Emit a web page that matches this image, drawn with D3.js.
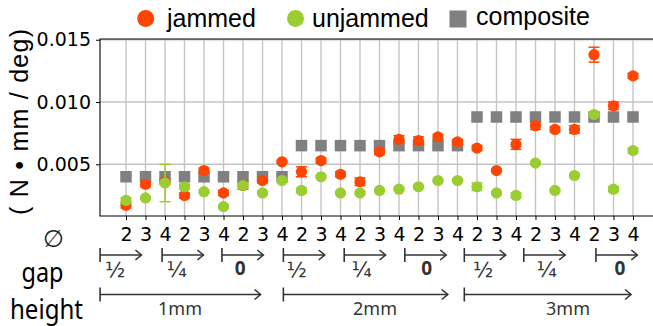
<!DOCTYPE html>
<html>
<head>
<meta charset="utf-8">
<script src="https://cdn.jsdelivr.net/npm/d3@7"></script>
<style>
  html, body { margin: 0; padding: 0; background: #fff; }
  svg { display: block; }
</style>
</head>
<body>
<svg id="chart" width="653" height="326"></svg>
<script>
// Tip diameter for each of the 27 specimens (x tick labels)
const diameters = ["2","3","4","2","3","4","2","3","4",
                   "2","3","4","2","3","4","2","3","4",
                   "2","3","4","2","3","4","2","3","4"];
// Gap setting per group of three specimens, and height per group of nine
const gapLabels = ["½","¼","0","½","¼","0","½","¼","0"];
const heightLabels = ["1mm","2mm","3mm"];
const yTicks = [0.005, 0.010, 0.015];

// Stiffness, N·mm/deg
const jammed = [0.0017, 0.0034, 0.0036, 0.0025, 0.0045, 0.0027, 0.0033, 0.0037, 0.0052,
                0.0044, 0.0053, 0.0042, 0.0036, 0.0060, 0.0070, 0.0069, 0.0072, 0.0068,
                0.0063, 0.0045, 0.0066, 0.0081, 0.0078, 0.0078, 0.0138, 0.0097, 0.0121];
const jammedErr = [0.0002, 0.0002, 0.0002, 0.0002, 0.0002, 0.0002, 0.0003, 0.0002, 0.0001,
                   0.0004, 0.0002, 0.0002, 0.0003, 0.0002, 0.0003, 0.0003, 0.0002, 0.0002,
                   0.0002, 0.0001, 0.0004, 0.0003, 0.0002, 0.0003, 0.0006, 0.0003, 0.0002];
const unjammed = [0.0021, 0.0023, 0.0035, 0.0032, 0.0028, 0.0016, 0.0033, 0.0027, 0.0037,
                  0.0029, 0.0040, 0.0027, 0.0027, 0.0029, 0.0030, 0.0032, 0.0037, 0.0037,
                  0.0032, 0.0027, 0.0025, 0.0051, 0.0029, 0.0041, 0.0090, 0.0030, 0.0061];
const unjammedErr = [0.0002, 0.0001, 0.0015, 0.0002, 0.0001, 0.0001, 0.0002, 0.0001, 0.0001,
                     0.0002, 0.0001, 0.0001, 0.0001, 0.0001, 0.0001, 0.0001, 0.0001, 0.0001,
                     0.0003, 0.0001, 0.0002, 0.0001, 0.0001, 0.0001, 0.0001, 0.0002, 0.0002];
const composite = [0.0040, 0.0040, 0.0040, 0.0040, 0.0040, 0.0040, 0.0040, 0.0040, 0.0040,
                   0.0065, 0.0065, 0.0065, 0.0065, 0.0065, 0.0065, 0.0065, 0.0065, 0.0065,
                   0.0088, 0.0088, 0.0088, 0.0088, 0.0088, 0.0088, 0.0088, 0.0088, 0.0088];

const colors = { jammed: "#ff4500", unjammed: "#9acd32", composite: "#808080" };

// Annotation layout below the axis, in specimen-index units
const gapArrowLayout = {
  start: [-1.33, 1.85, 4.92, 8.07, 11.19, 14.30, 17.35, 20.40, 24.10],
  label: [-0.56, 2.60, 5.85, 8.75, 12.09, 15.42, 18.32, 21.57, 25.33],
  length: 2.12
};
const heightArrowLayout = {
  start: [-1.33, 8.07, 17.35],
  end: [6.90, 16.50, 25.90],
  label: [2.77, 12.77, 22.67]
};

const svg = d3.select("#chart");
const plot = { left: 100, right: 659, top: 39, bottom: 216 };

const idx = d3.range(diameters.length);
const x = d3.scaleLinear().domain([-1.334, 27.334]).range([plot.left, plot.right]);
const y = d3.scaleLinear().domain([0.00085, 0.01506]).range([plot.bottom, plot.top]);

// Grid
const grid = svg.append("g").attr("stroke", "#c4c4c4").attr("stroke-width", 1.4);
grid.selectAll("line.v").data(idx).join("line")
  .attr("class", "v")
  .attr("x1", d => x(d)).attr("x2", d => x(d))
  .attr("y1", plot.top).attr("y2", plot.bottom);
grid.selectAll("line.h").data(yTicks).join("line")
  .attr("class", "h")
  .attr("x1", plot.left).attr("x2", plot.right)
  .attr("y1", d => y(d)).attr("y2", d => y(d));

// Axes
const fontTick = "'DejaVu Sans', sans-serif";
const yAxis = svg.append("g")
  .attr("transform", `translate(${plot.left},0)`)
  .call(d3.axisLeft(y).tickValues(yTicks).tickFormat(d3.format(".3f")).tickSize(4).tickPadding(5));
yAxis.select(".domain").remove();
yAxis.selectAll("text").attr("font-family", fontTick).attr("font-size", 19).attr("fill", "#000");
yAxis.selectAll("line").attr("stroke", "#000");

const xAxis = svg.append("g")
  .attr("transform", `translate(0,${plot.bottom})`)
  .call(d3.axisBottom(x).tickValues(idx).tickFormat(i => diameters[i]).tickSize(4).tickPadding(8));
xAxis.select(".domain").remove();
xAxis.selectAll("text").attr("font-family", fontTick).attr("font-size", 19).attr("fill", "#000");
xAxis.selectAll("line").attr("stroke", "#000");

// Frame (right side falls outside the canvas)
svg.append("path")
  .attr("d", `M${plot.right},${plot.top}H${plot.left}V${plot.bottom}H${plot.right}`)
  .attr("fill", "none").attr("stroke", "#000").attr("stroke-width", 1.1);

// Composite squares
const sq = 11.5;
svg.append("g").selectAll("rect").data(idx).join("rect")
  .attr("x", i => x(i) - sq / 2).attr("y", i => y(composite[i]) - sq / 2)
  .attr("width", sq).attr("height", sq)
  .attr("fill", colors.composite);

// Error bars + circles for a series
function drawSeries(vals, errs, color) {
  const g = svg.append("g");
  const cap = 5.5;
  const eb = g.append("g").attr("stroke", color).attr("stroke-width", 1.5);
  eb.selectAll("line.bar").data(idx).join("line").attr("class", "bar")
    .attr("x1", i => x(i)).attr("x2", i => x(i))
    .attr("y1", i => y(vals[i] - errs[i])).attr("y2", i => y(vals[i] + errs[i]));
  eb.selectAll("line.lo").data(idx).join("line").attr("class", "lo")
    .attr("x1", i => x(i) - cap).attr("x2", i => x(i) + cap)
    .attr("y1", i => y(vals[i] - errs[i])).attr("y2", i => y(vals[i] - errs[i]));
  eb.selectAll("line.hi").data(idx).join("line").attr("class", "hi")
    .attr("x1", i => x(i) - cap).attr("x2", i => x(i) + cap)
    .attr("y1", i => y(vals[i] + errs[i])).attr("y2", i => y(vals[i] + errs[i]));
  g.selectAll("circle").data(idx).join("circle")
    .attr("cx", i => x(i)).attr("cy", i => y(vals[i])).attr("r", 5.6)
    .attr("fill", color);
}
drawSeries(jammed, jammedErr, colors.jammed);
drawSeries(unjammed, unjammedErr, colors.unjammed);

// Legend
const fontLegend = "'Liberation Sans', Arial, sans-serif";
const legend = svg.append("g").attr("font-family", fontLegend).attr("font-size", 25).attr("fill", "#000");
legend.append("circle").attr("cx", 145.7).attr("cy", 18.5).attr("r", 8.5).attr("fill", colors.jammed);
legend.append("text").attr("x", 167).attr("y", 26.5).text("jammed");
legend.append("circle").attr("cx", 295.5).attr("cy", 18.5).attr("r", 8.5).attr("fill", colors.unjammed);
legend.append("text").attr("x", 312).attr("y", 26.5).text("unjammed");
legend.append("rect").attr("x", 449.5).attr("y", 10.5).attr("width", 17).attr("height", 17).attr("fill", colors.composite);
legend.append("text").attr("x", 476).attr("y", 24.5).text("composite");

// Y axis title
svg.append("text")
  .attr("transform", "translate(27.5,122) rotate(-90)")
  .attr("text-anchor", "middle")
  .attr("font-family", fontLegend).attr("font-size", 25)
  .attr("textLength", 186).attr("lengthAdjust", "spacing")
  .attr("xml:space", "preserve")
  .text("( N • mm / deg)");

// Row titles
const fontAnn = "'Noto Sans', sans-serif";
svg.append("text").attr("x", 53.5).attr("y", 246.5).attr("text-anchor", "middle")
  .attr("font-family", fontTick).attr("font-size", 24).attr("fill", "#222").text("∅");
svg.append("text").attr("x", 42.5).attr("y", 282).attr("text-anchor", "middle")
  .attr("font-family", fontAnn).attr("font-size", 27)
  .attr("textLength", 42).attr("lengthAdjust", "spacingAndGlyphs").text("gap");
svg.append("text").attr("x", 46.5).attr("y", 319).attr("text-anchor", "middle")
  .attr("font-family", fontAnn).attr("font-size", 27)
  .attr("textLength", 73).attr("lengthAdjust", "spacingAndGlyphs").text("height");

// Bracket arrows: |----->
const ink = "#333";
function bracketArrow(g, x0, x1, yy, bar) {
  const a = g.append("g").attr("stroke", ink).attr("stroke-width", 1.6).attr("fill", "none");
  a.append("line").attr("x1", x0).attr("x2", x0).attr("y1", yy - bar).attr("y2", yy + bar);
  a.append("line").attr("x1", x0).attr("x2", x1).attr("y1", yy).attr("y2", yy);
  a.append("path").attr("d", `M${x1 - 6},${yy - 5}L${x1},${yy}L${x1 - 6},${yy + 5}`);
}
const ann = svg.append("g");
gapLabels.forEach((lab, k) => {
  const x0 = x(gapArrowLayout.start[k]);
  const x1 = x(gapArrowLayout.start[k] + gapArrowLayout.length);
  bracketArrow(ann, x0, x1, 255, 7);
  const bold = lab === "0";
  ann.append("text").attr("x", x(gapArrowLayout.label[k])).attr("y", bold ? 275 : 276.5)
    .attr("text-anchor", "middle")
    .attr("font-family", bold ? fontAnn : fontTick)
    .attr("font-size", bold ? 19 : 21).attr("font-weight", bold ? 700 : 400)
    .attr("fill", ink).text(lab);
});
heightLabels.forEach((lab, k) => {
  bracketArrow(ann, x(heightArrowLayout.start[k]), x(heightArrowLayout.end[k]), 294.5, 7);
  ann.append("text").attr("x", x(heightArrowLayout.label[k])).attr("y", 315)
    .attr("text-anchor", "middle").attr("font-family", fontAnn)
    .attr("font-size", 18).attr("fill", ink).text(lab);
});
</script>
</body>
</html>
